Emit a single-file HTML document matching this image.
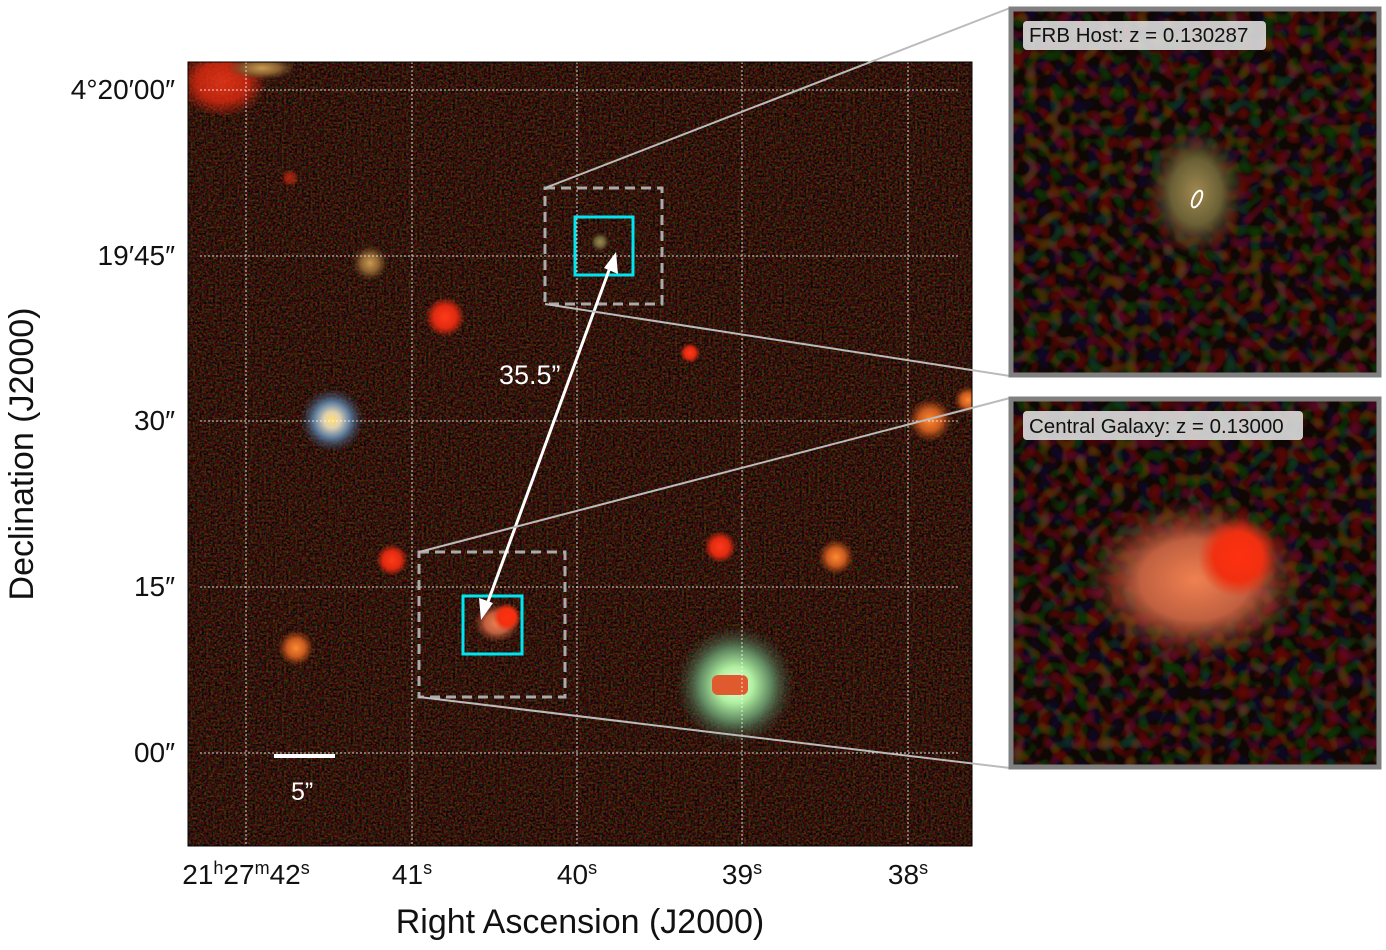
<!DOCTYPE html>
<html><head><meta charset="utf-8"><style>
body{margin:0;background:#fff;width:1386px;height:950px;overflow:hidden;font-family:"Liberation Sans",sans-serif}
</style></head><body>
<svg width="1386" height="950" xmlns="http://www.w3.org/2000/svg" style="position:absolute;left:0;top:0">
<defs>
<clipPath id="mc"><rect x="188" y="62" width="784" height="784"/></clipPath>
<filter id="noise" x="0" y="0" width="100%" height="100%">
<feTurbulence type="fractalNoise" baseFrequency="0.45" numOctaves="2" seed="3"/>
<feColorMatrix values="1.4 0 0 0 -0.55  0 0.6 0 0 -0.28  0 0 0.3 0 -0.15  0 0 0 0 1"/>
</filter>
<filter id="noise2" x="0" y="0" width="100%" height="100%">
<feTurbulence type="fractalNoise" baseFrequency="0.08" numOctaves="1" seed="7"/>
<feColorMatrix values="1.6 0 0 0 -0.75  0 0.6 0 0 -0.3  0 0 0.3 0 -0.15  0 0 0 0 1"/>
</filter>
<radialGradient id="red"><stop offset="0" stop-color="#ff3a1a"/><stop offset="0.55" stop-color="#e02a10"/><stop offset="1" stop-color="#e02a10" stop-opacity="0"/></radialGradient>
<radialGradient id="orange"><stop offset="0" stop-color="#ff8a30"/><stop offset="0.5" stop-color="#c85a20"/><stop offset="1" stop-color="#a04010" stop-opacity="0"/></radialGradient>
<radialGradient id="tan"><stop offset="0" stop-color="#c89a50"/><stop offset="0.5" stop-color="#8a6030"/><stop offset="1" stop-color="#604020" stop-opacity="0"/></radialGradient>
<radialGradient id="blue"><stop offset="0" stop-color="#ffe070"/><stop offset="0.25" stop-color="#e0d0b0"/><stop offset="0.55" stop-color="#6080a0"/><stop offset="1" stop-color="#304060" stop-opacity="0"/></radialGradient>
<radialGradient id="green"><stop offset="0" stop-color="#f0ffe0"/><stop offset="0.3" stop-color="#b0f0a0"/><stop offset="0.6" stop-color="#608860"/><stop offset="1" stop-color="#304030" stop-opacity="0"/></radialGradient>
<radialGradient id="host"><stop offset="0" stop-color="#a08850"/><stop offset="0.5" stop-color="#6a6035"/><stop offset="1" stop-color="#403020" stop-opacity="0"/></radialGradient>
<radialGradient id="cen"><stop offset="0" stop-color="#f08050"/><stop offset="0.5" stop-color="#c06040"/><stop offset="1" stop-color="#803020" stop-opacity="0"/></radialGradient>
<radialGradient id="cenred"><stop offset="0" stop-color="#ff3010"/><stop offset="0.6" stop-color="#f03010"/><stop offset="1" stop-color="#f03010" stop-opacity="0"/></radialGradient>
</defs>
<rect x="188" y="62" width="784" height="784" fill="#140906"/>
<rect x="188" y="62" width="784" height="784" filter="url(#noise)" opacity="0.4"/>
<g clip-path="url(#mc)">
<ellipse cx="222" cy="82" rx="45" ry="35" fill="url(#red)" opacity="0.8"/>
<ellipse cx="262" cy="68" rx="35" ry="12" fill="url(#tan)"/>
<circle cx="445" cy="317" r="20" fill="url(#red)"/>
<circle cx="370" cy="263" r="18" fill="url(#tan)"/>
<circle cx="690" cy="353" r="10" fill="url(#red)"/>
<circle cx="290" cy="178" r="9" fill="url(#red)" opacity="0.5"/>
<circle cx="332" cy="420" r="32" fill="url(#blue)"/>
<circle cx="930" cy="420" r="22" fill="url(#orange)"/>
<circle cx="968" cy="400" r="14" fill="url(#orange)"/>
<circle cx="392" cy="560" r="16" fill="url(#red)"/>
<circle cx="720" cy="547" r="16" fill="url(#red)"/>
<circle cx="836" cy="557" r="18" fill="url(#orange)"/>
<circle cx="296" cy="648" r="18" fill="url(#orange)"/>
<circle cx="600" cy="242" r="10" fill="url(#host)"/>
<ellipse cx="497" cy="623" rx="24" ry="20" fill="url(#cen)"/>
<circle cx="507" cy="617" r="14" fill="url(#cenred)"/>
<circle cx="735" cy="685" r="60" fill="url(#green)"/>
<rect x="712" y="675" width="36" height="20" rx="6" fill="#e05a30"/>
</g>
<g stroke="#fff" stroke-width="1" stroke-dasharray="2,2" opacity="0.8">
<line x1="246" y1="62" x2="246" y2="846"/><line x1="412" y1="62" x2="412" y2="846"/><line x1="577" y1="62" x2="577" y2="846"/><line x1="742" y1="62" x2="742" y2="846"/><line x1="908" y1="62" x2="908" y2="846"/>
<line x1="200" y1="90" x2="960" y2="90"/><line x1="200" y1="256" x2="960" y2="256"/><line x1="200" y1="421" x2="960" y2="421"/><line x1="200" y1="587" x2="960" y2="587"/><line x1="200" y1="753" x2="960" y2="753"/>
</g>
<rect x="188" y="62" width="784" height="784" fill="none" stroke="#000" stroke-width="1"/>
<rect x="545" y="188" width="117" height="116" fill="none" stroke="#aaa" stroke-width="3" stroke-dasharray="10,6"/>
<rect x="419" y="552" width="146" height="145" fill="none" stroke="#aaa" stroke-width="3" stroke-dasharray="10,6"/>
<rect x="575" y="217" width="58" height="58" fill="none" stroke="#00e5f0" stroke-width="3"/>
<rect x="463" y="596" width="59" height="58" fill="none" stroke="#00e5f0" stroke-width="3"/>
<line x1="485" y1="610" x2="612" y2="262" stroke="#fff" stroke-width="3"/>
<polygon points="616,252 618,274 604,268" fill="#fff"/>
<polygon points="481,620 479,598 493,603" fill="#fff"/>
<text x="499" y="384" font-size="27" fill="#fff">35.5”</text>
<line x1="274" y1="756" x2="335" y2="756" stroke="#fff" stroke-width="4"/>
<text x="291" y="800" font-size="25" fill="#fff">5”</text>
<g stroke="#bbb" stroke-width="2">
<line x1="545" y1="188" x2="1010" y2="8"/><line x1="545" y1="304" x2="1010" y2="376"/>
<line x1="419" y1="552" x2="1010" y2="398"/><line x1="419" y1="697" x2="1010" y2="768"/>
</g>
<rect x="1012" y="10" width="366" height="364" fill="#1a0c08"/>
<rect x="1012" y="10" width="366" height="364" filter="url(#noise2)" opacity="0.4"/>
<ellipse cx="1196" cy="192" rx="50" ry="65" fill="url(#host)"/>
<ellipse cx="1197" cy="199" rx="4" ry="9" transform="rotate(25 1197 199)" fill="none" stroke="#fff" stroke-width="2"/>
<rect x="1011" y="9" width="368" height="366" fill="none" stroke="#808080" stroke-width="5"/>
<rect x="1023" y="21" width="243" height="29" rx="4" fill="#ddd" opacity="0.9"/>
<text x="1029" y="42" font-size="20.5" fill="#111">FRB Host: z = 0.130287</text>
<rect x="1012" y="400" width="366" height="366" fill="#1a0c08"/>
<rect x="1012" y="400" width="366" height="366" filter="url(#noise2)" opacity="0.4"/>
<ellipse cx="1195" cy="580" rx="110" ry="80" fill="url(#cen)"/>
<circle cx="1238" cy="557" r="40" fill="url(#cenred)"/>
<rect x="1011" y="399" width="368" height="368" fill="none" stroke="#808080" stroke-width="5"/>
<rect x="1023" y="411" width="280" height="29" rx="4" fill="#ddd" opacity="0.9"/>
<text x="1029" y="433" font-size="20.5" fill="#111">Central Galaxy: z = 0.13000</text>
<g font-size="28" fill="#111" text-anchor="end">
<text x="175" y="99">4°20′00″</text><text x="175" y="265">19′45″</text><text x="175" y="430">30″</text><text x="175" y="596">15″</text><text x="175" y="762">00″</text>
</g>
<g font-size="28" fill="#111" text-anchor="middle">
<text x="246" y="884">21<tspan font-size="18" dy="-10">h</tspan><tspan dy="10">27</tspan><tspan font-size="18" dy="-10">m</tspan><tspan dy="10">42</tspan><tspan font-size="18" dy="-10">s</tspan></text>
<text x="412" y="884">41<tspan font-size="18" dy="-10">s</tspan></text>
<text x="577" y="884">40<tspan font-size="18" dy="-10">s</tspan></text>
<text x="742" y="884">39<tspan font-size="18" dy="-10">s</tspan></text>
<text x="908" y="884">38<tspan font-size="18" dy="-10">s</tspan></text>
<text x="580" y="933" font-size="34">Right Ascension (J2000)</text>
<text transform="translate(33 454) rotate(-90)" font-size="34">Declination (J2000)</text>
</g>
</svg>
</body></html>
